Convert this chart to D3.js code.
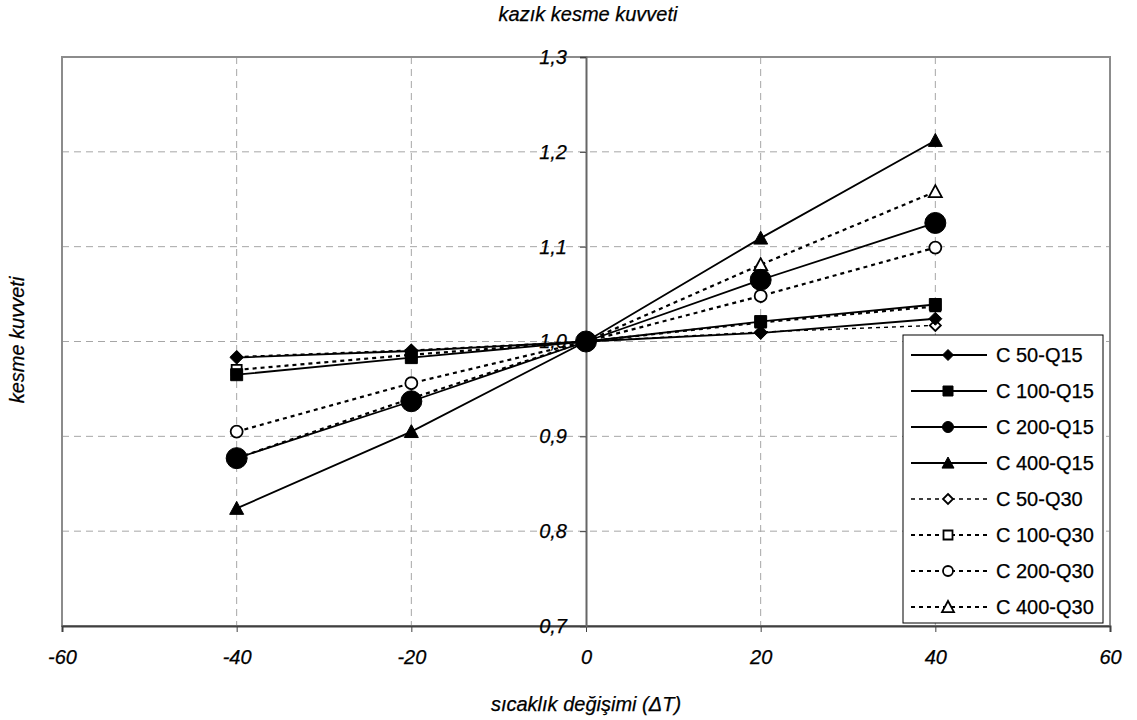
<!DOCTYPE html>
<html>
<head>
<meta charset="utf-8">
<script src="https://cdn.jsdelivr.net/npm/d3@7"></script>
<style>
  html, body { margin: 0; padding: 0; background: #fff; }
  text { font-family: "Liberation Sans", Arial, sans-serif; fill: #000; stroke: #000; stroke-width: 0.25px; }
</style>
</head>
<body>
<svg id="chart" width="1137" height="720"></svg>
<script>
// ---- data ----
const xValues = [-40, -20, 0, 20, 40];
const seriesNames = ["C 50-Q15", "C 100-Q15", "C 200-Q15", "C 400-Q15",
                     "C 50-Q30", "C 100-Q30", "C 200-Q30", "C 400-Q30"];
const c50q15  = [0.983, 0.990, 1.0, 1.009, 1.024];
const c100q15 = [0.965, 0.983, 1.0, 1.021, 1.039];
const c200q15 = [0.877, 0.937, 1.0, 1.065, 1.125];
const c400q15 = [0.824, 0.905, 1.0, 1.109, 1.212];
const c50q30  = [0.984, 0.991, 1.0, 1.010, 1.017];
const c100q30 = [0.970, 0.986, 1.0, 1.020, 1.037];
const c200q30 = [0.905, 0.956, 1.0, 1.048, 1.099];
const c400q30 = [0.877, 0.940, 1.0, 1.081, 1.158];
const xTicks = [-60, -40, -20, 0, 20, 40, 60];
const yTicks = [0.7, 0.8, 0.9, 1.0, 1.1, 1.2, 1.3];
const titleText = "kazık kesme kuvveti";
const xTitle = "sıcaklık değişimi (ΔT)";
const yTitle = "kesme kuvveti";

// ---- styles (not data) ----
const seriesValues = [c50q15, c100q15, c200q15, c400q15, c50q30, c100q30, c200q30, c400q30];
const styles = [
  {shape: "diamond",  fill: "#000", size: 13, legendSize: 11, dash: null, w: 1.8},
  {shape: "square",   fill: "#000", size: 12, legendSize: 10, dash: null, w: 1.8},
  {shape: "circle",   fill: "#000", size: 21, legendSize: 11, dash: null, w: 1.8},
  {shape: "triangle", fill: "#000", size: 14, legendSize: 12, dash: null, w: 1.8},
  {shape: "diamond",  fill: "#fff", size: 11, legendSize: 10, dash: "4,4", w: 1.4},
  {shape: "square",   fill: "#fff", size: 10, legendSize: 9,  dash: "4,4", w: 2.2},
  {shape: "circle",   fill: "#fff", size: 12, legendSize: 10, dash: "4,4", w: 2.2},
  {shape: "triangle", fill: "#fff", size: 13, legendSize: 12, dash: "4,4", w: 2.2}
];

const svg = d3.select("#chart");
const L = 62, R = 1110, T = 57, B = 626;
const x = d3.scaleLinear().domain([-60, 60]).range([L, R]);
const y = d3.scaleLinear().domain([0.7, 1.3]).range([B, T]);
const fmt = v => d3.format(".1f")(v).replace(".", ",");

// gridlines
const grid = svg.append("g");
grid.selectAll("line.h").data(yTicks.filter(v => v > 0.7 && v < 1.3)).join("line")
  .attr("x1", L).attr("x2", R).attr("y1", d => y(d)).attr("y2", d => y(d))
  .attr("stroke", "#a6a6a6").attr("stroke-width", 1).attr("stroke-dasharray", "7,5");
grid.selectAll("line.v").data(xTicks.filter(v => v !== 0 && v > -60 && v < 60)).join("line")
  .attr("y1", T).attr("y2", B).attr("x1", d => x(d)).attr("x2", d => x(d))
  .attr("stroke", "#a6a6a6").attr("stroke-width", 1).attr("stroke-dasharray", "7,5");

// plot border
svg.append("rect").attr("x", L).attr("y", T).attr("width", R - L).attr("height", B - T)
  .attr("fill", "none").attr("stroke", "#8c8c8c").attr("stroke-width", 2);

// axes
const xAxis = svg.append("g").attr("transform", `translate(0,${B})`)
  .call(d3.axisBottom(x).tickValues(xTicks).tickSize(6).tickFormat(d => d));
xAxis.select(".domain").attr("stroke", "#404040").attr("stroke-width", 2);
xAxis.selectAll(".tick line").attr("stroke", "#404040").attr("stroke-width", 1);
xAxis.selectAll(".tick text").attr("font-size", 20).attr("font-style", "italic")
  .attr("font-family", "Liberation Sans, Arial, sans-serif").attr("dy", null).attr("y", 38);

const yAxis = svg.append("g").attr("transform", `translate(${x(0)},0)`)
  .call(d3.axisLeft(y).tickValues(yTicks).tickSize(6).tickPadding(13).tickFormat(fmt));
yAxis.select(".domain").attr("stroke", "#666").attr("stroke-width", 2);
yAxis.selectAll(".tick line").attr("stroke", "#404040").attr("stroke-width", 1);
yAxis.selectAll(".tick text").attr("font-size", 20).attr("font-style", "italic")
  .attr("font-family", "Liberation Sans, Arial, sans-serif");

// symbols
function symPath(shape, size) {
  const s = size / 2;
  if (shape === "diamond") return `M0,${-s}L${s},0L0,${s}L${-s},0Z`;
  if (shape === "square") return `M${-s},${-s}H${s}V${s}H${-s}Z`;
  if (shape === "triangle") return `M0,${-s}L${s},${s * 0.85}L${-s},${s * 0.85}Z`;
  return null;
}
function drawMarker(g, st, cx, cy, size) {
  const sw = st.fill === "#000" ? 1 : 1.8;
  if (st.shape === "circle") {
    g.append("circle").attr("cx", cx).attr("cy", cy).attr("r", size / 2)
      .attr("fill", st.fill).attr("stroke", "#000").attr("stroke-width", sw);
  } else {
    g.append("path").attr("d", symPath(st.shape, size))
      .attr("transform", `translate(${cx},${cy})`)
      .attr("fill", st.fill).attr("stroke", "#000").attr("stroke-width", sw)
      .attr("stroke-linejoin", "miter");
  }
}

const line = d3.line().x((d, i) => x(xValues[i])).y(d => y(d));
// draw Q30 series first, then Q15 on top
const order = [4, 5, 6, 7, 0, 1, 2, 3];
const plotG = svg.append("g");
order.forEach(k => {
  const st = styles[k];
  plotG.append("path").datum(seriesValues[k]).attr("d", line)
    .attr("fill", "none").attr("stroke", "#000").attr("stroke-width", st.w)
    .attr("stroke-dasharray", st.dash);
});
order.forEach(k => {
  const st = styles[k];
  const g = plotG.append("g");
  seriesValues[k].forEach((v, i) => drawMarker(g, st, x(xValues[i]), y(v), st.size));
});

// legend
const lg = svg.append("g");
lg.append("rect").attr("x", 903).attr("y", 335).attr("width", 200).attr("height", 288)
  .attr("fill", "#fff").attr("stroke", "#000").attr("stroke-width", 1);
seriesNames.forEach((name, k) => {
  const st = styles[k];
  const cy = 355 + k * 36;
  lg.append("line").attr("x1", 911).attr("x2", 987).attr("y1", cy).attr("y2", cy)
    .attr("stroke", "#000").attr("stroke-width", st.w).attr("stroke-dasharray", st.dash);
  drawMarker(lg, st, 948, cy, st.legendSize);
  lg.append("text").attr("x", 996).attr("y", cy + 7).attr("font-size", 20).text(name);
});

// titles
svg.append("text").attr("x", 588).attr("y", 21).attr("text-anchor", "middle")
  .attr("font-size", 20).attr("font-style", "italic").text(titleText);
svg.append("text").attr("x", 586).attr("y", 711).attr("text-anchor", "middle")
  .attr("font-size", 20).attr("font-style", "italic").text(xTitle);
svg.append("text").attr("transform", "translate(24,340) rotate(-90)").attr("text-anchor", "middle")
  .attr("font-size", 20).attr("font-style", "italic").text(yTitle);
</script>
</body>
</html>
